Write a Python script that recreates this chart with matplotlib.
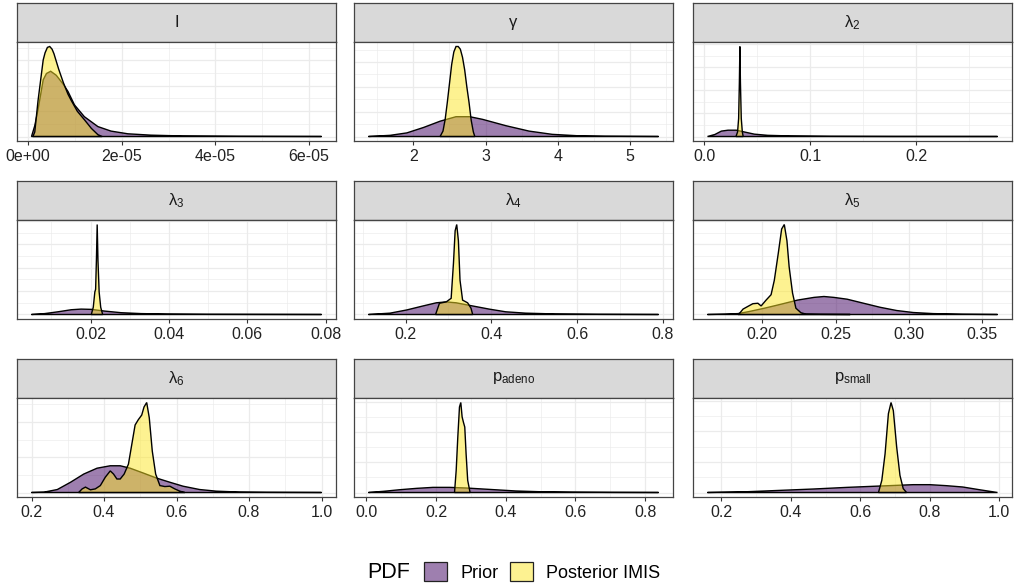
import numpy as np
import matplotlib
matplotlib.use('Agg')
import matplotlib.pyplot as plt
from matplotlib.patches import Patch
from matplotlib.ticker import FixedLocator

plt.rcParams['font.family'] = ['Liberation Sans', 'DejaVu Sans']
plt.rcParams['mathtext.fontset'] = 'custom'
plt.rcParams['mathtext.rm'] = 'Liberation Sans'
plt.rcParams['mathtext.it'] = 'Liberation Sans:italic'
plt.rcParams['mathtext.bf'] = 'Liberation Sans:bold'

# ---------------- data (relative density) ----------------
I_prior_x = [0.07e-5, 0.14e-5, 0.21e-5, 0.32e-5, 0.39e-5, 0.48e-5, 0.6e-5, 0.75e-5, 0.85e-5,
             0.99e-5, 1.2e-5, 1.49e-5, 1.77e-5, 2.13e-5, 2.62e-5, 3.3e-5, 4.5e-5, 6.27e-5]
I_prior_y = [0, 12, 30, 63, 70, 72.5, 68, 58, 50, 35, 22, 11, 6, 3, 1.5, 0.6, 0.2, 0]
I_post_x = [0.1e-5, 0.14e-5, 0.21e-5, 0.32e-5, 0.36e-5, 0.41e-5, 0.46e-5, 0.51e-5, 0.55e-5,
            0.65e-5, 0.75e-5, 0.85e-5, 0.92e-5, 1.05e-5, 1.2e-5, 1.35e-5, 1.49e-5, 1.58e-5]
I_post_y = [0, 5, 40, 85, 93, 99, 100, 97, 92, 75, 60, 47, 40, 28, 18.7, 9, 2, 0]

gamma_prior_x = [1.38, 1.68, 1.91, 2.14, 2.37, 2.59, 2.78, 2.96, 3.28, 3.60, 3.92, 4.28, 4.65, 5.39]
gamma_prior_y = [0, 1.3, 4, 10, 17, 22, 22, 19, 12, 6, 2.4, 0.8, 0.3, 0]
gamma_post_x = [2.37, 2.41, 2.44, 2.47, 2.50, 2.53, 2.56, 2.59, 2.62, 2.65, 2.68, 2.71, 2.74,
                2.77, 2.80, 2.83, 2.85]
gamma_post_y = [0, 6, 19, 38, 59, 80, 94, 100, 100, 97, 88, 74, 55, 38, 18, 5, 0]

l2_prior_x = [0.0031, 0.010, 0.0162, 0.0225, 0.0303, 0.038, 0.0474, 0.06, 0.0818, 0.119, 0.18, 0.277]
l2_prior_y = [0, 2.2, 6, 7, 7, 5, 2.6, 1.3, 0.6, 0.2, 0.05, 0]
l2_post_x = [0.0300, 0.0315, 0.0325, 0.0332, 0.0337, 0.0342, 0.0350, 0.0360, 0.0368]
l2_post_y = [0, 5, 20, 60, 100, 60, 20, 5, 0]

l3_prior_x = [0.00495, 0.0083, 0.0117, 0.0151, 0.0176, 0.0202, 0.0236, 0.0278, 0.0329, 0.0396, 0.05, 0.0789]
l3_prior_y = [0, 1, 3, 5.3, 6, 5.7, 3.8, 2, 1, 0.5, 0.2, 0]
l3_post_x = [0.0202, 0.0207, 0.0211, 0.0213, 0.0215, 0.0217, 0.0219, 0.0222, 0.0226, 0.0231]
l3_post_y = [0, 8, 25, 28, 60, 100, 60, 25, 8, 0]

l4_prior_x = [0.1135, 0.1637, 0.2023, 0.2407, 0.2717, 0.2948, 0.318, 0.3563, 0.395, 0.4335,
              0.48, 0.549, 0.65, 0.79]
l4_prior_y = [0, 1.5, 5, 9.5, 13, 14, 13, 9.5, 6, 3, 1.5, 0.6, 0.2, 0]
l4_post_x = [0.27, 0.279, 0.2948, 0.3063, 0.3117, 0.3156, 0.3193, 0.3232, 0.327, 0.333, 0.3447,
             0.3526, 0.3565]
l4_post_y = [0, 12.5, 14, 18, 57, 93, 100, 82, 38, 16, 13, 7, 0]

l5_prior_x = [0.1628, 0.1745, 0.1836, 0.1903, 0.2016, 0.2128, 0.2241, 0.2353, 0.2421, 0.2489,
              0.2579, 0.2691, 0.2804, 0.2917, 0.3029, 0.3165, 0.336, 0.3603]
l5_prior_y = [0, 0.4, 1, 3, 7, 11.4, 16, 19, 20, 19, 17, 12.5, 8, 4.4, 2.2, 1, 0.3, 0]
l5_post_x = [0.1836, 0.1850, 0.187, 0.1903, 0.1937, 0.1971, 0.1993, 0.2027, 0.2061, 0.2083,
             0.211, 0.2133, 0.2151, 0.2169, 0.2184, 0.2207, 0.223, 0.2264, 0.2297, 0.24, 0.26]
l5_post_y = [0, 2, 6, 9, 12, 12.5, 9.5, 16, 22, 38, 68, 95, 100, 82, 53, 24, 7, 2, 0.5, 0.2, 0]

l6_prior_x = [0.2, 0.2345, 0.2712, 0.3077, 0.3441, 0.3808, 0.4173, 0.4447, 0.4721, 0.5085,
              0.5452, 0.5816, 0.6181, 0.6638, 0.7096, 0.7734, 0.85, 1.0]
l6_prior_y = [0, 0.4, 3.3, 11.4, 20.5, 27, 29.7, 29.7, 27, 21.6, 16, 11.4, 7, 3.3, 1.5, 0.5, 0.2, 0]
l6_post_x = [0.33, 0.3397, 0.3488, 0.3625, 0.376, 0.3899, 0.4036, 0.4173, 0.4263, 0.4356,
             0.4447, 0.4556, 0.4674, 0.4767, 0.4858, 0.4948, 0.504, 0.5104, 0.5178, 0.5249,
             0.5332, 0.5425, 0.5542, 0.5679, 0.5816, 0.5953, 0.609, 0.6227]
l6_post_y = [0, 4, 6, 3, 4, 7.7, 17, 24, 20.5, 15, 15, 20.5, 31.5, 53.5, 75, 81, 86, 95, 100,
             83, 46, 20.5, 7.7, 6.6, 7, 4, 1.5, 0]

pa_prior_x = [0.0066, 0.0493, 0.0967, 0.1443, 0.1915, 0.239, 0.2864, 0.3337, 0.3812, 0.4287,
              0.495, 0.59, 0.70, 0.838]
pa_prior_y = [0, 1.3, 3.1, 4.6, 5.7, 5.7, 5, 3.9, 2.8, 1.7, 0.9, 0.4, 0.15, 0]
pa_post_x = [0.2532, 0.258, 0.2626, 0.2674, 0.2712, 0.275, 0.2788, 0.2826, 0.2864, 0.291, 0.2978]
pa_post_y = [0, 24.6, 61.5, 95, 100, 84, 78, 72.7, 43, 13.5, 0]

ps_prior_x = [0.16, 0.2762, 0.3714, 0.4667, 0.562, 0.6571, 0.7524, 0.8, 0.8476, 0.8952, 0.9429, 0.9952]
ps_prior_y = [0, 0.9, 2.4, 3.9, 5.7, 7.2, 8.7, 8.7, 7.6, 6.1, 3.1, 0]
ps_post_x = [0.6524, 0.662, 0.6714, 0.681, 0.6886, 0.6952, 0.7048, 0.7143, 0.7237, 0.7333]
ps_post_y = [0, 13.5, 43, 87.6, 100, 91, 50.6, 19, 4.3, 0]

panel_labels = ['I', 'γ', 'λ$_2$', 'λ$_3$', 'λ$_4$', 'λ$_5$', 'λ$_6$',
                'p$_{\\mathrm{adeno}}$', 'p$_{\\mathrm{small}}$']

tick_values = [[0, 2e-5, 4e-5, 6e-5], [2, 3, 4, 5], [0.0, 0.1, 0.2], [0.02, 0.04, 0.06, 0.08],
               [0.2, 0.4, 0.6, 0.8], [0.20, 0.25, 0.30, 0.35], [0.2, 0.4, 0.6, 0.8, 1.0],
               [0.0, 0.2, 0.4, 0.6, 0.8], [0.2, 0.4, 0.6, 0.8, 1.0]]
tick_labels = [['0e+00', '2e-05', '4e-05', '6e-05'], ['2', '3', '4', '5'], ['0.0', '0.1', '0.2'],
               ['0.02', '0.04', '0.06', '0.08'], ['0.2', '0.4', '0.6', '0.8'],
               ['0.20', '0.25', '0.30', '0.35'], ['0.2', '0.4', '0.6', '0.8', '1.0'],
               ['0.0', '0.2', '0.4', '0.6', '0.8'], ['0.2', '0.4', '0.6', '0.8', '1.0']]

legend_labels = ['Prior', 'Posterior IMIS']
legend_title = 'PDF'

series = [(I_prior_x, I_prior_y, I_post_x, I_post_y),
          (gamma_prior_x, gamma_prior_y, gamma_post_x, gamma_post_y),
          (l2_prior_x, l2_prior_y, l2_post_x, l2_post_y),
          (l3_prior_x, l3_prior_y, l3_post_x, l3_post_y),
          (l4_prior_x, l4_prior_y, l4_post_x, l4_post_y),
          (l5_prior_x, l5_prior_y, l5_post_x, l5_post_y),
          (l6_prior_x, l6_prior_y, l6_post_x, l6_post_y),
          (pa_prior_x, pa_prior_y, pa_post_x, pa_post_y),
          (ps_prior_x, ps_prior_y, ps_post_x, ps_post_y)]

# horizontal grid step (minor) per panel, in relative-density units
grid_steps = [14.1, 13.8, 12.8, 13.0, 13.0, 13.0, 19.6, 16.7, 17.0]

# ---------------- styling / layout ----------------
W, H = 1017, 585
PRIOR_COL = (0x3F / 255, 0x00 / 255, 0x60 / 255, 0.5)
POST_COL = (0xFD / 255, 0xE7 / 255, 0x25 / 255, 0.5)
BORDER = '#444444'
GRID = '#EBEBEB'

fig = plt.figure(figsize=(W / 100, H / 100), dpi=100)

col_left = [17, 354, 693]
panel_w = 319
strip_top = [3, 181, 359]
strip_h = 39
panel_h = 99


def fx(px):
    return px / W


def fy(py):
    return 1 - py / H


for i, (px_, py_, qx_, qy_) in enumerate(series):
    r, c = divmod(i, 3)
    left = col_left[c]
    top = strip_top[r]
    # strip
    sax = fig.add_axes([fx(left), fy(top + strip_h), panel_w / W, strip_h / H])
    sax.set_facecolor('#D9D9D9')
    sax.set_xticks([])
    sax.set_yticks([])
    for s in sax.spines.values():
        s.set_color(BORDER)
        s.set_linewidth(0.9)
    sax.text(0.5, 0.5, panel_labels[i], ha='center', va='center', fontsize=12,
             color='#1A1A1A', transform=sax.transAxes)

    ax = fig.add_axes([fx(left), fy(top + strip_h + panel_h), panel_w / W, panel_h / H])
    ax.set_facecolor('white')
    ax.fill(px_, py_, facecolor=PRIOR_COL, edgecolor='black', linewidth=1.0, zorder=3)
    ax.fill(qx_, qy_, facecolor=POST_COL, edgecolor='black', linewidth=1.0, zorder=4)

    xmin = min(min(px_), min(qx_))
    xmax = max(max(px_), max(qx_))
    rng = xmax - xmin
    ax.set_xlim(xmin - 0.05 * rng, xmax + 0.05 * rng)
    ymax = max(max(py_), max(qy_))
    ax.set_ylim(-0.05 * ymax, 1.05 * ymax)

    tv = tick_values[i]
    ax.set_xticks(tv)
    ax.set_xticklabels(tick_labels[i])
    step = tv[1] - tv[0]
    lo, hi = ax.get_xlim()
    minors = [tv[0] - step / 2 + k * step for k in range(-3, len(tv) + 3)]
    minors = [m for m in minors if lo < m < hi]
    ax.xaxis.set_minor_locator(FixedLocator(minors))

    gs = grid_steps[i]
    ymaj = [k * 2 * gs for k in range(0, 10) if k * 2 * gs < 1.05 * ymax]
    ymin_ = [(2 * k + 1) * gs for k in range(0, 10) if (2 * k + 1) * gs < 1.05 * ymax]
    ax.set_yticks(ymaj)
    ax.yaxis.set_minor_locator(FixedLocator(ymin_))
    ax.set_yticklabels([])

    ax.grid(True, which='major', color=GRID, linewidth=0.9, zorder=0)
    ax.grid(True, which='minor', color=GRID, linewidth=0.45, zorder=0)
    ax.set_axisbelow(True)

    ax.tick_params(axis='x', which='major', length=3.2, width=0.8, color='#333333',
                   labelsize=11.5, labelcolor='#222222', pad=2.5)
    ax.tick_params(axis='x', which='minor', length=0)
    ax.tick_params(axis='y', which='both', length=0)
    for s in ax.spines.values():
        s.set_color(BORDER)
        s.set_linewidth(0.9)
        s.set_zorder(5)

# legend
fig.text(fx(367), fy(572), legend_title, ha='left', va='center', fontsize=15.5, color='black')
handles = [Patch(facecolor=PRIOR_COL, edgecolor='#222222', linewidth=0.9),
           Patch(facecolor=POST_COL, edgecolor='#222222', linewidth=0.9)]
fig.legend(handles, legend_labels, loc='center left', bbox_to_anchor=(fx(424), fy(572)),
           ncol=2, frameon=False, fontsize=13, handlelength=1.28, handleheight=1.22,
           handletextpad=0.72, columnspacing=0.67, borderpad=0, borderaxespad=0)

fig.savefig('out.png', dpi=100)
